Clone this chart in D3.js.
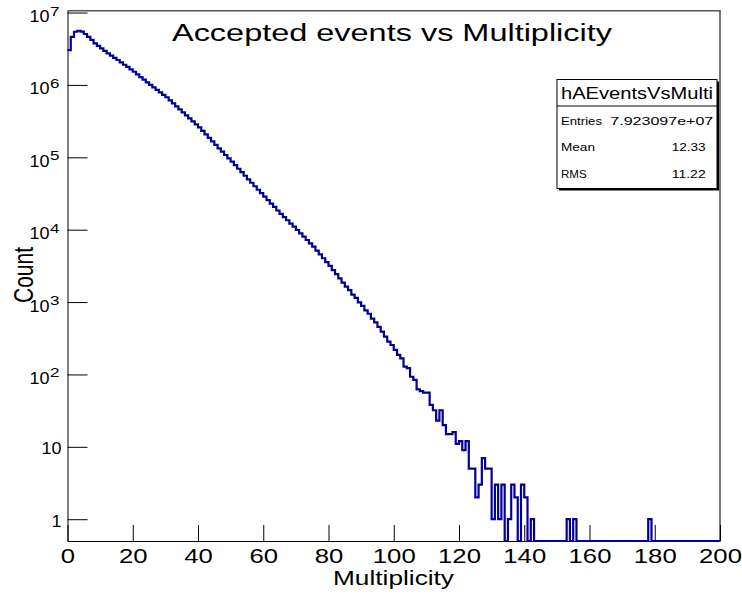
<!DOCTYPE html>
<html lang="en">
<head>
  <meta charset="UTF-8">
  <title>Accepted events vs Multiplicity</title>
  <style>
    body { margin: 0; background: #fff; }
    text { font-family: "Liberation Sans", Arial, Helvetica, sans-serif; fill: #000; }
  </style>
</head>
<body>

<svg width="742" height="594"></svg>
<script src="https://cdn.jsdelivr.net/npm/d3@7"></script>

<script>
  // histogram hAEventsVsMulti : 200 bins of width 1, from 0 to 200
  var binLow = d3.range(0, 200);
  var binWidth = 1;
  var counts = [
    3030000, 4600000, 5430000, 5600000, 5450000, 5050000, 4600000, 4200000, 3760000, 3470000,
    3200000, 2960000, 2730000, 2540000, 2370000, 2210000, 2050000, 1900000, 1770000, 1640000,
    1520000, 1400000, 1285000, 1183000, 1086000, 1000000, 925000, 855000, 789000, 729000,
    675000, 612000, 557000, 506000, 460000, 418000, 380000, 345000, 314000, 285000,
    259000, 232000, 207000, 185000, 166000, 148000, 133000, 119700, 107600, 96800,
    87100, 77800, 69500, 62200, 55600, 49700, 44500, 39800, 35600, 31900,
    28600, 25600, 22900, 20600, 18400, 16500, 14900, 13500, 12100, 11000,
    9900, 8900, 8000, 7200, 6470, 5820, 5150, 4560, 4030, 3560,
    3160, 2770, 2430, 2120, 1860, 1630, 1460, 1270, 1140, 990,
    885, 770, 690, 590, 525, 455, 390, 333, 284, 255,
    218, 186, 167, 128, 122, 93, 84, 62, 59, 56,
    56, 38, 32, 23, 32, 20, 15, 15, 16, 11,
    12, 9, 12, 5, 5, 2, 3, 7, 5, 5,
    1, 3, 1, 3, 0, 1, 3, 2, 0, 3,
    2, 0, 1, 0, 0, 0, 0, 0, 0, 0,
    0, 0, 0, 1, 0, 1, 0, 0, 0, 0,
    0, 0, 0, 0, 0, 0, 0, 0, 0, 0,
    0, 0, 0, 0, 0, 0, 0, 0, 1, 0,
    0, 0, 0, 0, 0, 0, 0, 0, 0, 0,
    0, 0, 0, 0, 0, 0, 0, 0, 0, 0
  ];

  var xTickValues = [0, 20, 40, 60, 80, 100, 120, 140, 160, 180, 200];
  var yTickValues = [1, 10, 1e2, 1e3, 1e4, 1e5, 1e6, 1e7];
  var yTickBase = ["1", "10", "10", "10", "10", "10", "10", "10"];
  var yTickExp  = ["", "", "2", "3", "4", "5", "6", "7"];

  var statsName = "hAEventsVsMulti";
  var statsKeys = ["Entries", "Mean", "RMS"];
  var statsVals = ["7.923097e+07", "12.33", "11.22"];

  var svg = d3.select("svg"),
      frame = {left: 67.5, right: 720, top: 10.7, bottom: 541};

  var x = d3.scaleLinear().domain([0, 200]).range([frame.left, frame.right]),
      y = d3.scaleLog().domain([0.5, 1.06e7]).range([frame.bottom, frame.top]);

  function stretch(sel, w) {
    return sel.attr("textLength", w).attr("lengthAdjust", "spacingAndGlyphs");
  }

  // frame (top and right edges)
  svg.append("path")
    .attr("d", "M" + frame.left + "," + frame.top + "H" + frame.right + "V" + frame.bottom)
    .attr("fill", "none")
    .attr("stroke", "#555")
    .attr("stroke-width", 1.6);

  // x axis, ticks pointing inside the frame
  var gx = svg.append("g")
    .attr("transform", "translate(0," + frame.bottom + ")");
  gx.call(d3.axisBottom(x).tickValues(d3.range(0, 201, 5)).tickSize(-7.7).tickFormat(""));
  gx.call(d3.axisBottom(x).tickValues(xTickValues).tickSize(-16).tickSizeOuter(0));
  gx.selectAll(".domain").attr("stroke", "#000");
  gx.selectAll(".tick line").attr("stroke", "#000");
  gx.selectAll(".tick text")
    .attr("y", 22.3)
    .attr("dy", null)
    .style("font-size", "19.5px")
    .each(function(d) { stretch(d3.select(this), String(d).length * 14.3); });

  // y axis, log, ticks pointing inside the frame
  var minorY = [];
  for (var k = -1; k <= 6; k++) {
    for (var m = 2; m <= 9; m++) {
      var v = m * Math.pow(10, k);
      if (v >= 0.5 && v <= 1.06e7) minorY.push(v);
    }
  }
  var gy = svg.append("g")
    .attr("transform", "translate(" + frame.left + ",0)");
  gy.call(d3.axisLeft(y).tickValues(minorY).tickSize(-10).tickFormat(""));
  gy.call(d3.axisLeft(y).tickValues(yTickValues).tickSize(-20).tickSizeOuter(0).tickFormat(""));
  gy.selectAll(".domain").attr("stroke", "#000");
  gy.selectAll(".tick line").attr("stroke", "#000");

  yTickValues.forEach(function(v, i) {
    var ty = y(v);
    if (yTickExp[i] === "") {
      stretch(svg.append("text")
        .attr("x", 61.5).attr("y", ty + 7.4)
        .attr("text-anchor", "end")
        .style("font-size", "16px")
        .text(yTickBase[i]), yTickBase[i].length * 10);
    } else {
      stretch(svg.append("text")
        .attr("x", 49.5).attr("y", ty + 9.5)
        .attr("text-anchor", "end")
        .style("font-size", "16px")
        .text(yTickBase[i]), 20);
      stretch(svg.append("text")
        .attr("x", 50).attr("y", ty + 3)
        .style("font-size", "12px")
        .text(yTickExp[i]), 9.5);
    }
  });

  // histogram outline
  var pts = [];
  counts.forEach(function(c, i) {
    pts.push([binLow[i], c]);
    pts.push([binLow[i] + binWidth, c]);
  });
  var line = d3.line()
    .x(function(d) { return x(d[0]); })
    .y(function(d) { return d[1] > 0 ? y(Math.max(d[1], 0.5)) : frame.bottom; });

  svg.append("path")
    .datum(pts)
    .attr("fill", "none")
    .attr("stroke", "#000099")
    .attr("stroke-width", 2.2)
    .attr("stroke-linejoin", "miter")
    .attr("d", line);

  // titles
  stretch(svg.append("text")
    .attr("x", 392).attr("y", 40.7)
    .attr("text-anchor", "middle")
    .style("font-size", "23px")
    .text("Accepted events vs Multiplicity"), 440);

  stretch(svg.append("text")
    .attr("x", 393.5).attr("y", 585)
    .attr("text-anchor", "middle")
    .style("font-size", "21px")
    .text("Multiplicity"), 121);

  svg.append("text")
    .attr("transform", "translate(33,275) rotate(-90) scale(1,1.3)")
    .attr("text-anchor", "middle")
    .style("font-size", "21px")
    .text("Count");

  // stats box
  var box = {x: 557, y: 79.5, w: 160, h: 109};
  svg.append("rect")
    .attr("x", box.x).attr("y", box.y)
    .attr("width", box.w).attr("height", box.h)
    .attr("fill", "#fff")
    .attr("stroke", "#000")
    .attr("stroke-width", 1);
  svg.append("path")
    .attr("d", "M" + (box.x + box.w + 1) + "," + (box.y + 2) + "V" + (box.y + box.h + 1) + "H" + (box.x + 2))
    .attr("fill", "none")
    .attr("stroke", "#000")
    .attr("stroke-width", 2);
  svg.append("line")
    .attr("x1", box.x).attr("x2", box.x + box.w)
    .attr("y1", 106).attr("y2", 106)
    .attr("stroke", "#000");

  stretch(svg.append("text")
    .attr("x", box.x + box.w / 2).attr("y", 99)
    .attr("text-anchor", "middle")
    .style("font-size", "16.5px")
    .text(statsName), 152);

  var keyW = [41, 34, 25.7], valW = [103, 34, 34], valX = [713.3, 705.7, 705.7];
  statsKeys.forEach(function(key, i) {
    var by = 124.5 + i * 26.5;
    stretch(svg.append("text")
      .attr("x", 561).attr("y", by)
      .style("font-size", "11px")
      .text(key), keyW[i]);
    stretch(svg.append("text")
      .attr("x", valX[i]).attr("y", by)
      .attr("text-anchor", "end")
      .style("font-size", "11px")
      .text(statsVals[i]), valW[i]);
  });
</script>

</body>
</html>
